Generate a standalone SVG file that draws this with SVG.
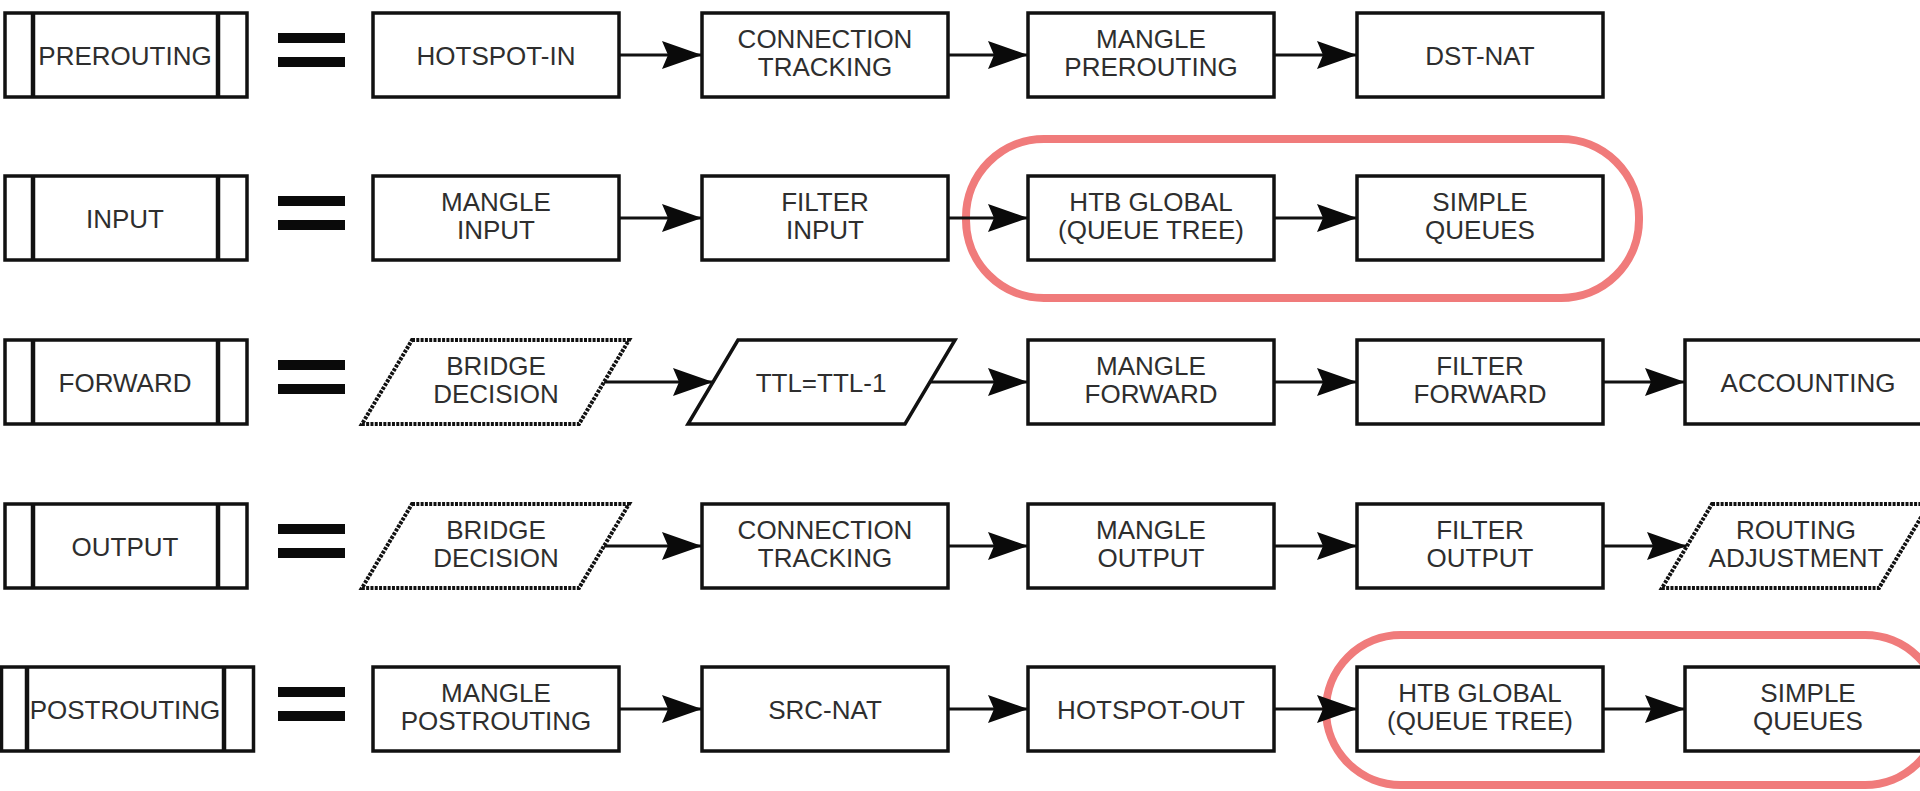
<svg xmlns="http://www.w3.org/2000/svg" width="1920" height="791" viewBox="0 0 1920 791">
<defs>
<style>
.box{fill:#fff;stroke:#111;stroke-width:3.5}
.inner{stroke:#111;stroke-width:4.5}
.dash{fill:#fff;stroke:#111;stroke-width:4;stroke-dasharray:3 1.3}
.eq{fill:#0a0a0a}
.t{font-family:"Liberation Sans",Arial,sans-serif;font-size:26px;fill:#2e2e2e;text-anchor:middle}
.con{stroke:#111;stroke-width:3.2;fill:none;marker-end:url(#ah)}
.hl{fill:none;stroke:#f07b7b;stroke-width:8}
</style>
<marker id="ah" viewBox="0 0 40 28" refX="40" refY="14" markerWidth="40" markerHeight="28" markerUnits="userSpaceOnUse" orient="auto">
<path d="M0,0 L40,14 L0,28 L6,14 Z" fill="#0a0a0a"/>
</marker>
</defs>
<rect width="1920" height="791" fill="#fff"/>

<g id="highlights">
<rect class="hl" x="966" y="139" width="673" height="159" rx="78" ry="78"/>
<rect class="hl" x="1326" y="635" width="614" height="150" rx="75" ry="75"/>
</g>

<g id="connectors">
<line class="con" x1="619" y1="55" x2="702" y2="55"/>
<line class="con" x1="948" y1="55" x2="1028" y2="55"/>
<line class="con" x1="1274" y1="55" x2="1357" y2="55"/>

<line class="con" x1="619" y1="218" x2="702" y2="218"/>
<line class="con" x1="948" y1="218" x2="1028" y2="218"/>
<line class="con" x1="1274" y1="218" x2="1357" y2="218"/>

<line class="con" x1="604" y1="382" x2="713" y2="382"/>
<line class="con" x1="930" y1="382" x2="1028" y2="382"/>
<line class="con" x1="1274" y1="382" x2="1357" y2="382"/>
<line class="con" x1="1603" y1="382" x2="1685" y2="382"/>

<line class="con" x1="604" y1="546" x2="702" y2="546"/>
<line class="con" x1="948" y1="546" x2="1028" y2="546"/>
<line class="con" x1="1274" y1="546" x2="1357" y2="546"/>
<line class="con" x1="1603" y1="546" x2="1687" y2="546"/>

<line class="con" x1="619" y1="709" x2="702" y2="709"/>
<line class="con" x1="948" y1="709" x2="1028" y2="709"/>
<line class="con" x1="1274" y1="709" x2="1357" y2="709"/>
<line class="con" x1="1603" y1="709" x2="1685" y2="709"/>
</g>

<!-- Row 1 -->
<g id="prerouting">
<rect class="box" x="5" y="13" width="242" height="84"/>
<line class="inner" x1="33" y1="13" x2="33" y2="97"/>
<line class="inner" x1="218" y1="13" x2="218" y2="97"/>
<text class="t" x="125" y="65">PREROUTING</text>
</g>
<g id="eq1"><rect class="eq" x="278" y="33" width="67" height="10"/><rect class="eq" x="278" y="57" width="67" height="10"/></g>
<g id="hotspot-in"><rect class="box" x="373" y="13" width="246" height="84"/><text class="t" x="496" y="65">HOTSPOT-IN</text></g>
<g id="conntrack1"><rect class="box" x="702" y="13" width="246" height="84"/><text class="t" x="825" y="48">CONNECTION</text><text class="t" x="825" y="76">TRACKING</text></g>
<g id="mangle-prerouting"><rect class="box" x="1028" y="13" width="246" height="84"/><text class="t" x="1151" y="48">MANGLE</text><text class="t" x="1151" y="76">PREROUTING</text></g>
<g id="dst-nat"><rect class="box" x="1357" y="13" width="246" height="84"/><text class="t" x="1480" y="65">DST-NAT</text></g>

<!-- Row 2 -->
<g id="input">
<rect class="box" x="5" y="176" width="242" height="84"/>
<line class="inner" x1="33" y1="176" x2="33" y2="260"/>
<line class="inner" x1="218" y1="176" x2="218" y2="260"/>
<text class="t" x="125" y="228">INPUT</text>
</g>
<g id="eq2"><rect class="eq" x="278" y="196" width="67" height="10"/><rect class="eq" x="278" y="220" width="67" height="10"/></g>
<g id="mangle-input"><rect class="box" x="373" y="176" width="246" height="84"/><text class="t" x="496" y="211">MANGLE</text><text class="t" x="496" y="239">INPUT</text></g>
<g id="filter-input"><rect class="box" x="702" y="176" width="246" height="84"/><text class="t" x="825" y="211">FILTER</text><text class="t" x="825" y="239">INPUT</text></g>
<g id="htb-input"><rect class="box" x="1028" y="176" width="246" height="84"/><text class="t" x="1151" y="211">HTB GLOBAL</text><text class="t" x="1151" y="239">(QUEUE TREE)</text></g>
<g id="simple-input"><rect class="box" x="1357" y="176" width="246" height="84"/><text class="t" x="1480" y="211">SIMPLE</text><text class="t" x="1480" y="239">QUEUES</text></g>

<!-- Row 3 -->
<g id="forward">
<rect class="box" x="5" y="340" width="242" height="84"/>
<line class="inner" x1="33" y1="340" x2="33" y2="424"/>
<line class="inner" x1="218" y1="340" x2="218" y2="424"/>
<text class="t" x="125" y="392">FORWARD</text>
</g>
<g id="eq3"><rect class="eq" x="278" y="360" width="67" height="10"/><rect class="eq" x="278" y="384" width="67" height="10"/></g>
<g id="bridge-fwd"><polygon class="dash" points="412,340 629,340 579,424 362,424"/><text class="t" x="496" y="375">BRIDGE</text><text class="t" x="496" y="403">DECISION</text></g>
<g id="ttl"><polygon class="box" points="738,340 955,340 905,424 688,424"/><text class="t" x="821" y="392">TTL=TTL-1</text></g>
<g id="mangle-forward"><rect class="box" x="1028" y="340" width="246" height="84"/><text class="t" x="1151" y="375">MANGLE</text><text class="t" x="1151" y="403">FORWARD</text></g>
<g id="filter-forward"><rect class="box" x="1357" y="340" width="246" height="84"/><text class="t" x="1480" y="375">FILTER</text><text class="t" x="1480" y="403">FORWARD</text></g>
<g id="accounting"><rect class="box" x="1685" y="340" width="260" height="84"/><text class="t" x="1808" y="392">ACCOUNTING</text></g>

<!-- Row 4 -->
<g id="output">
<rect class="box" x="5" y="504" width="242" height="84"/>
<line class="inner" x1="33" y1="504" x2="33" y2="588"/>
<line class="inner" x1="218" y1="504" x2="218" y2="588"/>
<text class="t" x="125" y="556">OUTPUT</text>
</g>
<g id="eq4"><rect class="eq" x="278" y="524" width="67" height="10"/><rect class="eq" x="278" y="548" width="67" height="10"/></g>
<g id="bridge-out"><polygon class="dash" points="412,504 629,504 579,588 362,588"/><text class="t" x="496" y="539">BRIDGE</text><text class="t" x="496" y="567">DECISION</text></g>
<g id="conntrack2"><rect class="box" x="702" y="504" width="246" height="84"/><text class="t" x="825" y="539">CONNECTION</text><text class="t" x="825" y="567">TRACKING</text></g>
<g id="mangle-output"><rect class="box" x="1028" y="504" width="246" height="84"/><text class="t" x="1151" y="539">MANGLE</text><text class="t" x="1151" y="567">OUTPUT</text></g>
<g id="filter-output"><rect class="box" x="1357" y="504" width="246" height="84"/><text class="t" x="1480" y="539">FILTER</text><text class="t" x="1480" y="567">OUTPUT</text></g>
<g id="routing-adj"><polygon class="dash" points="1712,504 1929,504 1879,588 1662,588"/><text class="t" x="1796" y="539">ROUTING</text><text class="t" x="1796" y="567">ADJUSTMENT</text></g>

<!-- Row 5 -->
<g id="postrouting">
<rect class="box" x="1.5" y="667" width="252" height="84"/>
<line class="inner" x1="27" y1="667" x2="27" y2="751"/>
<line class="inner" x1="224" y1="667" x2="224" y2="751"/>
<text class="t" x="125" y="719">POSTROUTING</text>
</g>
<g id="eq5"><rect class="eq" x="278" y="687" width="67" height="10"/><rect class="eq" x="278" y="711" width="67" height="10"/></g>
<g id="mangle-postrouting"><rect class="box" x="373" y="667" width="246" height="84"/><text class="t" x="496" y="702">MANGLE</text><text class="t" x="496" y="730">POSTROUTING</text></g>
<g id="src-nat"><rect class="box" x="702" y="667" width="246" height="84"/><text class="t" x="825" y="719">SRC-NAT</text></g>
<g id="hotspot-out"><rect class="box" x="1028" y="667" width="246" height="84"/><text class="t" x="1151" y="719">HOTSPOT-OUT</text></g>
<g id="htb-post"><rect class="box" x="1357" y="667" width="246" height="84"/><text class="t" x="1480" y="702">HTB GLOBAL</text><text class="t" x="1480" y="730">(QUEUE TREE)</text></g>
<g id="simple-post"><rect class="box" x="1685" y="667" width="260" height="84"/><text class="t" x="1808" y="702">SIMPLE</text><text class="t" x="1808" y="730">QUEUES</text></g>
</svg>
